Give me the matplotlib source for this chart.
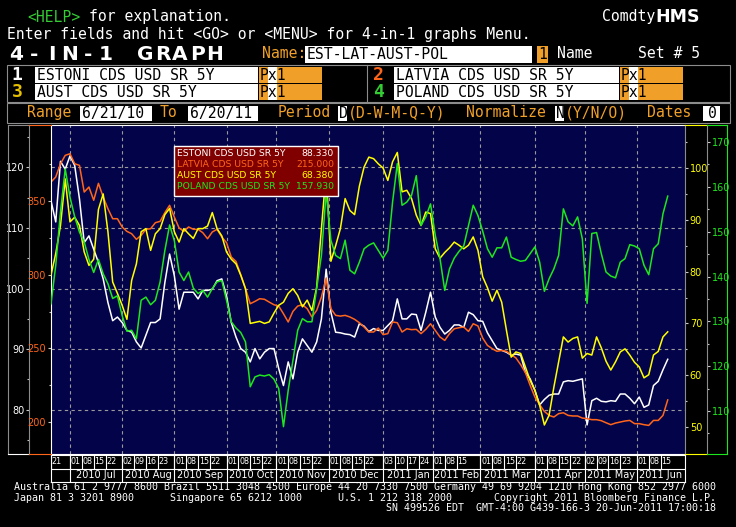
"""Bloomberg 4-in-1 graph: 5Y sovereign CDS for Estonia, Latvia,
Austria and Poland, 6/21/10 - 6/20/11, drawn in terminal style.

Left scales: Estonia (white), Latvia (orange).
Right scales: Austria (yellow), Poland (green).
"""

import matplotlib
matplotlib.use("Agg")
import matplotlib.pyplot as plt
import numpy as np
import pandas as pd
from matplotlib.lines import Line2D
from matplotlib.patches import Rectangle
from matplotlib.ticker import FixedLocator

W, H = 736, 527
MONO = "DejaVu Sans Mono"
SANS = "DejaVu Sans"

NAVY = "#03034a"
AMBER = "#f0a028"
GREY = "#8c8c8c"
C_EST, C_LAT, C_AUS, C_POL = "#ffffff", "#ff661a", "#ffff00", "#1ee61e"

DATES = pd.bdate_range("2010-06-21", "2011-06-20")
STEP = 2

ESTONIA = [
    114.5, 111.0, 121.0, 119.7, 121.9, 120.3, 114.8, 107.6, 108.7, 106.5, 104.3,
    101.6, 97.7, 94.7, 95.3, 94.4, 93.1, 92.8, 91.2, 90.2, 92.3, 94.4,
    94.4, 95.0, 101.0, 105.7, 102.1, 96.6, 99.4, 99.4, 99.4, 98.3, 99.7,
    99.7, 99.9, 101.3, 101.6, 98.8, 94.4, 92.0, 90.1, 89.5, 87.9, 90.1,
    88.4, 89.5, 90.1, 90.1, 86.8, 84.0, 87.9, 85.1, 89.5, 91.7, 90.6,
    89.5, 91.2, 95.0, 103.2, 96.1, 92.8, 92.7, 92.5, 92.4, 92.0, 94.2,
    93.8, 92.9, 93.4, 93.1, 93.1, 93.9, 94.7, 98.3, 95.0, 95.0, 95.8,
    95.7, 93.1, 96.1, 99.4, 95.3, 93.6, 92.5, 93.1, 94.0, 94.0, 93.6,
    96.1, 95.7, 94.7, 94.6, 92.7, 91.4, 90.1, 89.8, 89.5, 89.0, 89.2,
    89.0, 86.2, 85.1, 83.2, 80.8, 81.7, 82.4, 82.6, 82.6, 84.6, 84.8,
    84.7, 84.9, 85.1, 77.5, 81.5, 81.9, 81.4, 81.3, 81.5, 81.4, 82.6,
    82.6, 81.9, 81.0, 82.1, 80.4, 80.8, 84.0, 84.7, 86.6, 88.33,
]
LATVIA = [
    362.9, 366.3, 375.3, 381.0, 382.1, 375.3, 374.2, 356.1, 359.5, 350.5, 362.0,
    352.7, 344.8, 338.0, 338.0, 332.4, 329.4, 327.8, 324.0, 326.7, 330.8, 331.2,
    335.3, 336.2, 342.1, 347.1, 339.1, 331.7, 329.4, 332.4, 330.8, 330.8, 328.5,
    324.4, 329.0, 330.8, 325.6, 321.7, 312.0, 309.0, 300.0, 290.5, 280.3, 281.9,
    283.7, 283.3, 281.4, 279.6, 278.7, 273.5, 267.9, 275.1, 278.7, 279.6, 276.9,
    271.3, 275.8, 284.8, 297.7, 276.9, 272.4, 271.9, 272.4, 271.3, 269.7, 267.4,
    264.5, 261.1, 261.1, 263.8, 259.3, 260.0, 267.9, 267.4, 261.1, 263.3, 262.7,
    262.9, 260.0, 262.9, 266.7, 262.2, 257.7, 255.4, 260.0, 263.3, 264.0, 264.5,
    261.5, 266.7, 265.2, 257.0, 252.0, 249.8, 248.0, 248.6, 248.0, 245.7, 243.5,
    238.9, 233.5, 224.9, 217.0, 211.8, 207.2, 204.5, 203.4, 205.7, 206.3, 204.5,
    204.1, 204.1, 202.7, 202.3, 201.6, 201.6, 200.9, 199.5, 198.2, 199.3, 200.0,
    200.7, 201.1, 198.9, 198.9, 198.2, 197.7, 201.1, 201.1, 204.5, 215.0,
]
AUSTRIA = [
    79.3, 83.5, 88.9, 97.9, 89.6, 90.5, 88.9, 83.8, 81.2, 82.4, 92.0,
    95.0, 87.7, 78.0, 75.8, 73.5, 70.8, 78.3, 81.5, 87.7, 88.3, 84.1,
    87.3, 88.3, 91.0, 92.2, 87.7, 85.7, 88.3, 87.3, 86.4, 88.3, 88.3,
    88.8, 91.4, 88.3, 86.9, 83.8, 82.4, 81.5, 79.3, 76.7, 70.0, 70.2,
    70.4, 70.0, 70.3, 72.0, 73.5, 74.1, 75.8, 76.7, 75.4, 73.2, 74.5,
    72.5, 77.0, 88.3, 99.2, 82.0, 85.0, 88.3, 94.1, 91.8, 91.0, 96.5,
    100.2, 102.1, 101.8, 100.8, 100.0, 97.6, 101.2, 103.0, 95.4, 95.7, 94.1,
    90.9, 88.9, 91.5, 91.2, 84.4, 82.6, 83.7, 84.6, 85.7, 85.1, 84.4,
    85.1, 86.7, 84.1, 79.0, 76.9, 74.3, 76.4, 74.1, 68.7, 63.5, 64.5,
    64.2, 61.6, 59.0, 57.1, 54.2, 50.4, 52.3, 57.7, 62.6, 67.4, 66.4,
    67.1, 67.4, 63.3, 64.2, 63.9, 67.4, 65.3, 62.7, 61.0, 62.6, 64.5,
    65.1, 63.9, 62.5, 61.6, 59.5, 60.1, 63.9, 64.6, 67.4, 68.38,
]
POLAND = [
    133.9, 142.5, 154.4, 164.0, 157.7, 153.3, 149.9, 147.7, 143.8, 140.9, 143.8,
    140.6, 138.4, 135.1, 135.7, 131.3, 127.8, 128.0, 126.1, 134.7, 135.4, 133.7,
    134.7, 138.8, 145.8, 151.5, 148.0, 141.0, 139.1, 141.0, 137.4, 136.2, 136.9,
    135.4, 137.3, 138.8, 139.1, 134.7, 129.9, 128.5, 127.5, 125.4, 115.4, 117.6,
    118.0, 117.8, 118.1, 117.1, 115.0, 106.5, 114.6, 121.3, 128.0, 130.6, 129.9,
    129.9, 137.3, 144.7, 158.8, 148.1, 144.7, 144.0, 148.1, 141.4, 140.6, 143.2,
    146.2, 147.0, 147.5, 145.8, 144.1, 145.8, 156.6, 165.2, 155.9, 156.6, 158.1,
    162.5, 151.4, 153.3, 156.2, 149.2, 144.0, 136.9, 141.7, 144.1, 145.6, 146.8,
    151.4, 155.9, 153.6, 150.1, 146.2, 144.3, 146.4, 146.4, 148.8, 144.3, 143.8,
    143.4, 143.6, 145.1, 146.6, 143.2, 136.7, 139.5, 141.7, 144.7, 155.1, 152.2,
    151.3, 153.3, 148.4, 134.0, 149.6, 149.8, 145.1, 141.0, 140.1, 139.7, 143.2,
    144.0, 147.1, 146.8, 146.2, 142.5, 140.4, 146.2, 147.3, 154.0, 157.93,
]

NAMES = ["ESTONI CDS USD SR 5Y", "LATVIA CDS USD SR 5Y",
         "AUST CDS USD SR 5Y", "POLAND CDS USD SR 5Y"]
LAST = [88.330, 215.000, 68.380, 157.930]

MONTHS = ["2010 Jul", "2010 Aug", "2010 Sep", "2010 Oct", "2010 Nov",
          "2010 Dec", "2011 Jan", "2011 Feb", "2011 Mar", "2011 Apr",
          "2011 May", "2011 Jun"]
TICK_DATES = [
    "2010-06-21",
    "2010-07-01", "2010-07-08", "2010-07-15", "2010-07-22",
    "2010-08-02", "2010-08-09", "2010-08-16", "2010-08-23",
    "2010-09-01", "2010-09-08", "2010-09-15", "2010-09-22",
    "2010-10-01", "2010-10-08", "2010-10-15", "2010-10-22",
    "2010-11-01", "2010-11-08", "2010-11-15", "2010-11-22",
    "2010-12-01", "2010-12-08", "2010-12-15", "2010-12-22",
    "2011-01-03", "2011-01-10", "2011-01-17", "2011-01-24",
    "2011-02-01", "2011-02-08", "2011-02-15",
    "2011-03-01", "2011-03-08", "2011-03-15", "2011-03-22",
    "2011-04-01", "2011-04-08", "2011-04-15", "2011-04-22",
    "2011-05-02", "2011-05-09", "2011-05-16", "2011-05-23",
    "2011-06-01", "2011-06-08", "2011-06-15",
]

# (values, colour, ylim, major ticks, minor ticks, side, spine x px, spine colour)
SCALES = [
    (ESTONIA, C_EST, (72.7, 127.0), range(80, 121, 10), range(75, 126, 10),
     "left", 29, GREY),
    (LATVIA, C_LAT, (178.3, 401.6), [200, 250, 300, 350], [225, 275, 325, 375],
     "left", 51, "white"),
    (AUSTRIA, C_AUS, (44.8, 108.3), range(50, 101, 10), range(55, 106, 10),
     "right", 685, GREY),
    (POLAND, C_POL, (100.4, 173.8), range(110, 171, 10), range(105, 166, 10),
     "right", 707, GREY),
]

fig = plt.figure(figsize=(W / 100, H / 100), dpi=100, facecolor="black")


def fx(x):
    return x / W


def fy(y):
    return 1 - y / H


def text(x, y, s, color, size=10.6, family=MONO, weight="normal",
         ha="left", z=3):
    fig.text(fx(x), fy(y), s, color=color, fontsize=size, family=family,
             fontweight=weight, ha=ha, va="center", zorder=z)


def rect(x0, y0, x1, y1, fc="none", ec="none", lw=0.8, z=1):
    fig.add_artist(Rectangle((fx(x0), fy(y1)), (x1 - x0) / W, (y1 - y0) / H,
                             transform=fig.transFigure, facecolor=fc,
                             edgecolor=ec, linewidth=lw, zorder=z))


def seg(x0, y0, x1, y1, color, lw=0.8, z=2):
    fig.add_artist(Line2D([fx(x0), fx(x1)], [fy(y0), fy(y1)],
                          transform=fig.transFigure, color=color,
                          linewidth=lw, zorder=z))


# ---- header
text(27, 17, "<HELP>", "#33cc33")
text(89, 17, "for explanation.", "white")
text(602, 17, "Comdty", "white")
text(655, 17, "HMS", "white", size=12.5, family=SANS, weight="bold")
text(7, 35, "Enter fields and hit <GO> or <MENU> for 4-in-1 graphs Menu.", "white")
# wide terminal title: one glyph per cell
for k, ch in enumerate("4-IN-1"):
    text(16 + 18 * k, 54, ch, "white", size=14.5, family=SANS, weight="bold",
         ha="center")
for k, ch in enumerate("GRAPH"):
    text(145 + 17.4 * k, 54, ch, "white", size=14.5, family=SANS,
         weight="bold", ha="center")
text(262, 54, "Name:", AMBER)
rect(305, 46, 532, 63, fc="white")
text(307, 54.5, "EST-LAT-AUST-POL", "black")
rect(537, 46, 548, 63, fc=AMBER)
text(538, 54.5, "1", "black")
text(557, 54, "Name", "white")
text(638, 54, "Set # 5", "white")

rect(7, 65, 730, 102, ec=GREY)
seg(367, 65, 367, 102, GREY)
NUM_COLORS = ["white", C_LAT, "#e6c000", "#33cc33"]
for k, name in enumerate(NAMES):
    row, col = divmod(k, 2)
    y0, y1 = (67, 83) if row == 0 else (84, 100)
    yc = (y0 + y1) / 2
    bx = 0 if col == 0 else 359
    text(17 + bx + (2 if col else 0), yc, str(k + 1), NUM_COLORS[k], size=13,
         weight="bold", ha="center")
    rect(35 + bx, y0, 258 + bx + (2 if col else 0), y1, fc="white")
    text(37 + bx, yc + 0.5, name, "black")
    px0 = 259 + bx + (2 if col else 0)
    rect(px0, y0, px0 + 63, y1, fc=AMBER)
    rect(px0 + 9, y0, px0 + 18, y1, fc="white")
    text(px0 + 1, yc + 0.5, "Px1", "black")

rect(7, 103, 730, 123, ec=GREY)
text(27, 113, "Range", AMBER)
rect(80, 106, 152, 121, fc="white")
text(82, 113.5, "6/21/10", "black")
text(160, 113, "To", AMBER)
rect(188, 106, 258, 121, fc="white")
text(190, 113.5, "6/20/11", "black")
text(278, 113, "Period", AMBER)
rect(338, 106, 347, 121, fc="white")
text(339, 113.5, "D", "black")
text(348, 113, "(D-W-M-Q-Y)", AMBER)
text(466, 113, "Normalize", AMBER)
rect(555, 106, 564, 121, fc="white")
text(556, 113.5, "N", "black")
text(565, 113, "(Y/N/O)", AMBER)
text(647, 113, "Dates", AMBER)
rect(703, 106, 720, 121, fc="white")
text(712, 113.5, "0", "black", ha="center")

# ---- chart
L, R, T, B = 51, 685, 125, 454
x = np.arange(0, len(DATES), STEP)
month_idx = [i for i in range(1, len(DATES))
             if DATES[i].month != DATES[i - 1].month]
xmax = (R - L) / 2.372   # a few empty days after the last print

ax = fig.add_axes([fx(L), fy(B), (R - L) / W, (B - T) / H], facecolor=NAVY)
axes = [ax, ax.twinx(), ax.twinx(), ax.twinx()]
for a, (vals, col, lim, maj, mnr, side, sx, scol) in zip(axes, SCALES):
    a.plot(x, vals, color=col, lw=1.1)
    a.set_xlim(0, xmax)
    a.set_ylim(lim)
    for s in a.spines.values():
        s.set_visible(False)
    sp = a.spines[side]
    sp.set_visible(True)
    sp.set_color(scol)
    sp.set_linewidth(0.8)
    sp.set_position(("axes", (sx - L) / (R - L)))
    a.yaxis.set_ticks_position(side)
    a.yaxis.set_major_locator(FixedLocator(list(maj)))
    a.yaxis.set_minor_locator(FixedLocator(list(mnr)))
    a.tick_params(axis="y", which="major", direction="out", length=2.5,
                  width=0.8, color="#c8c8c8", labelcolor=col, labelsize=7,
                  pad=1)
    a.tick_params(axis="y", which="minor", direction="out", length=1.3,
                  width=0.8, color="#c8c8c8")
for s in ("top", "bottom"):
    ax.spines[s].set_visible(True)
    ax.spines[s].set_color("white")
    ax.spines[s].set_linewidth(0.8)
ax.set_xticks(month_idx)
ax.tick_params(axis="x", length=0, labelbottom=False)
ax.grid(True, color="#9a9a9a", ls=(0, (3, 3)), lw=0.8)

# axis columns around the plot
seg(8, 124.5, 8, 454, GREY)
seg(8, 124.5, 29, 124.5, GREY)
seg(8, 454, 29, 454, "white")
seg(29, 124.5, 51, 124.5, C_LAT)
seg(29, 454, 51, 454, C_LAT)
seg(685, 124.5, 707, 124.5, C_AUS)
seg(685, 454, 707, 454, C_AUS)
seg(707, 124.5, 727, 124.5, C_POL)
seg(707, 454, 727, 454, C_POL)
seg(727, 124.5, 727, 454, C_POL)

# legend box with last values
rect(174, 146, 338, 196, fc="#800000", ec="white", lw=1, z=5)
for k, (name, val, col) in enumerate(zip(NAMES, LAST,
                                         [C_EST, C_LAT, C_AUS, C_POL])):
    text(177, 153 + 11 * k, name, col, size=6.7, family=SANS, z=6)
    text(334, 153 + 11 * k, f"{val:.3f}", col, size=6.7, family=SANS,
         ha="right", z=6)

# ---- date axis
axd = fig.add_axes([fx(L), fy(482), (R - L) / W, (482 - 455) / H],
                   facecolor="black", sharex=ax)
axd.set_ylim(0, 2)
axd.set_yticks([])
axd.tick_params(axis="x", length=0, labelbottom=False)
for s in axd.spines.values():
    s.set_color("white")
    s.set_linewidth(0.8)
axd.axhline(1, color="white", lw=0.8)
axd.vlines(month_idx, 0, 2, color="white", lw=0.8)
tick_idx = [DATES.get_loc(pd.Timestamp(d)) for d in TICK_DATES]
axd.vlines(tick_idx, 1, 2, color="white", lw=0.8)
for i, d in zip(tick_idx, TICK_DATES):
    axd.text(i + 0.3, 1.5, d[-2:], color="white", fontsize=5.8,
             ha="left", va="center")
edges = month_idx + [xmax]
for lab, a0, a1 in zip(MONTHS, edges[:-1], edges[1:]):
    axd.text((a0 + a1) / 2, 0.5, lab, color="white", fontsize=7,
             ha="center", va="center")

# ---- footer
text(14, 487, "Australia 61 2 9777 8600 Brazil 5511 3048 4500 Europe 44 20 "
     "7330 7500 Germany 49 69 9204 1210 Hong Kong 852 2977 6000", "white",
     size=7.2)
text(14, 498, "Japan 81 3 3201 8900", "white", size=7.2)
text(170, 498, "Singapore 65 6212 1000", "white", size=7.2)
text(338, 498, "U.S. 1 212 318 2000", "white", size=7.2)
text(716, 498, "Copyright 2011 Bloomberg Finance L.P.", "white", size=7.2,
     ha="right")
text(716, 508, "SN 499526 EDT  GMT-4:00 G439-166-3 20-Jun-2011 17:00:18",
     "white", size=7.2, ha="right")

fig.savefig("out.png", dpi=100, facecolor="black")
